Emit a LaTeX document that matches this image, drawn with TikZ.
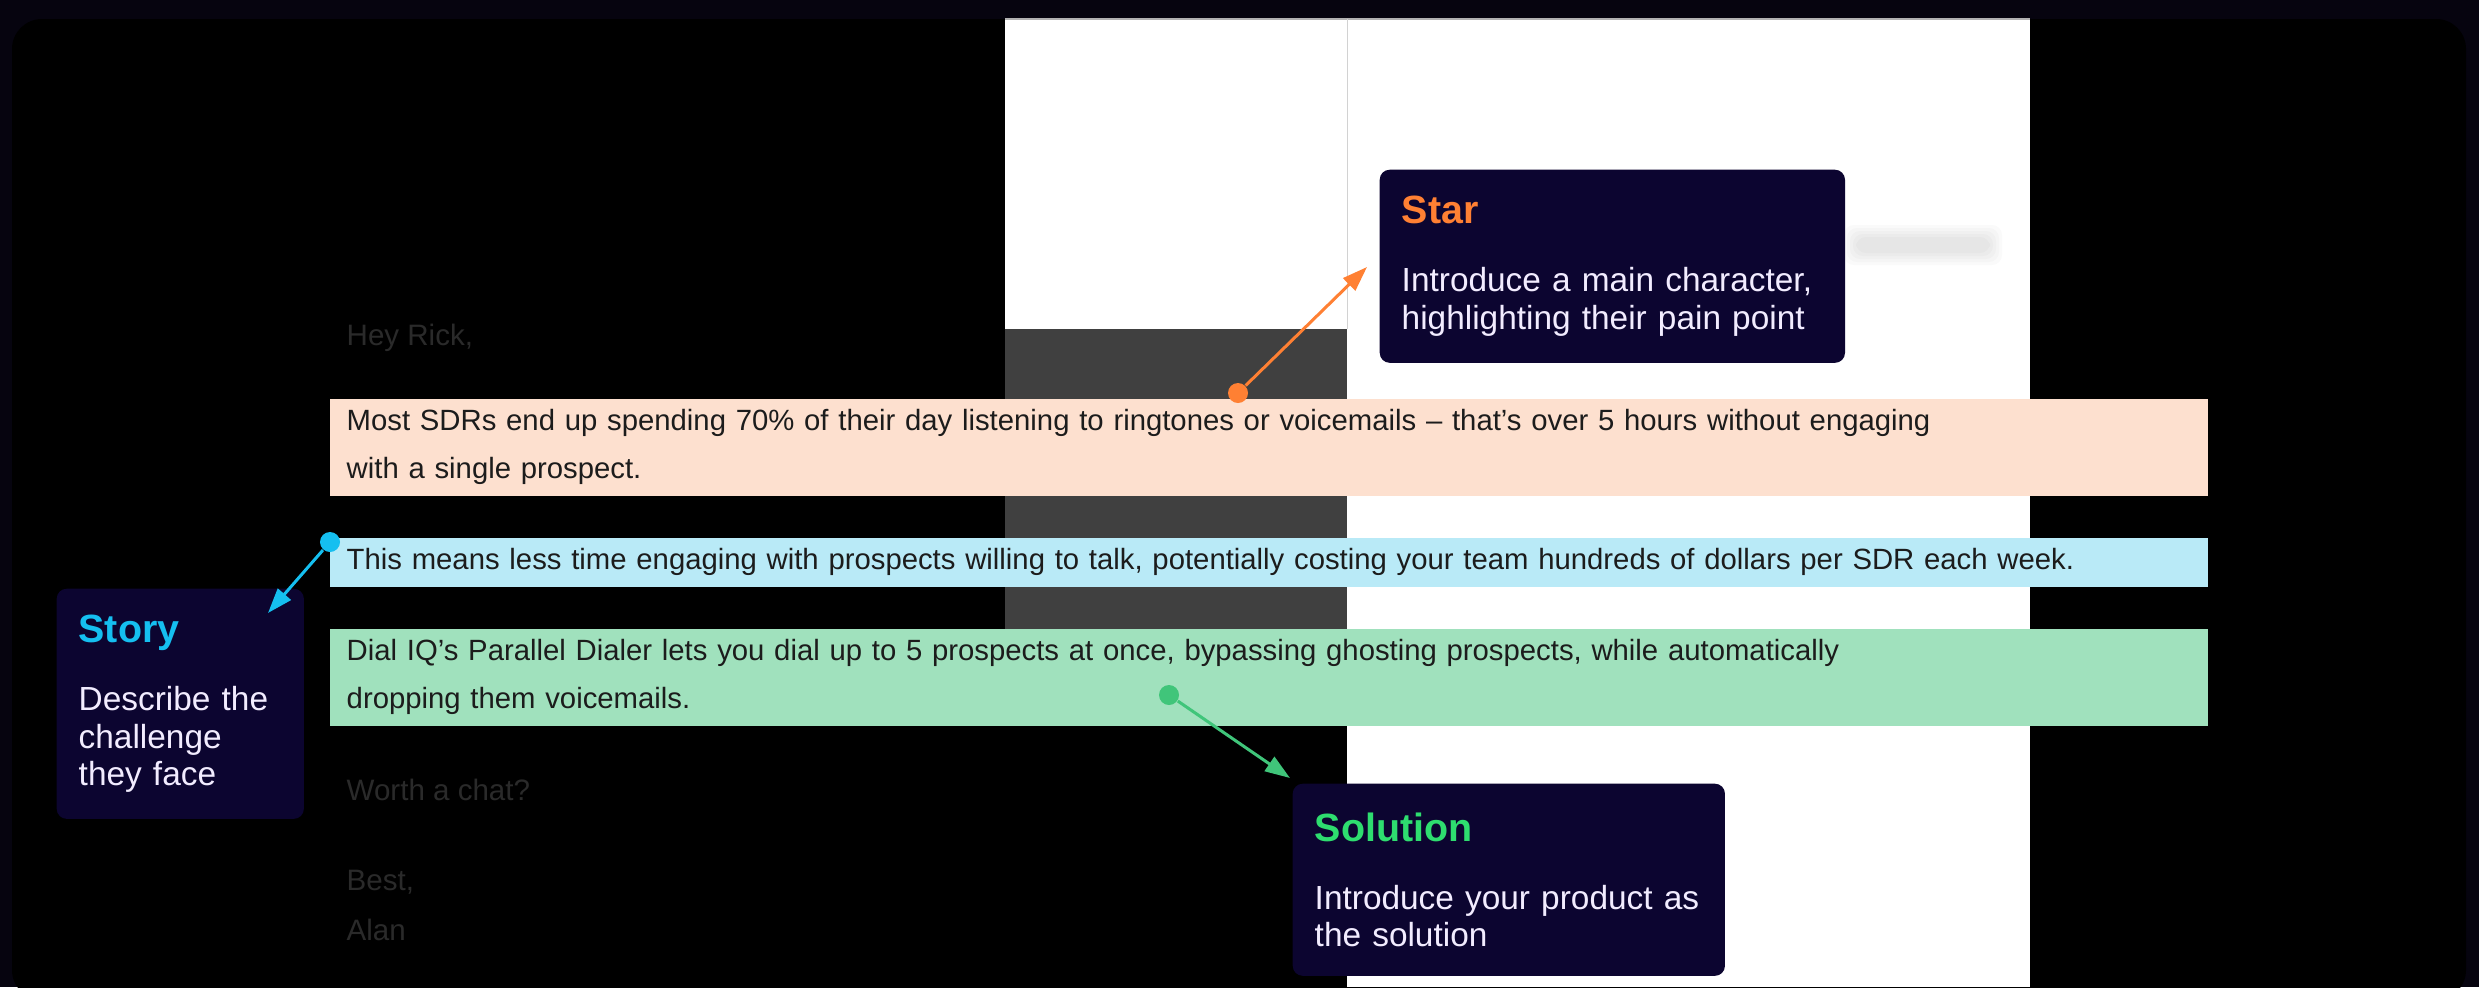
\documentclass[tikz,border=0pt]{standalone}
\usepackage{fontspec}
\setmainfont{Liberation Sans}
\usetikzlibrary{positioning,arrows.meta}

\definecolor{backdrop}{HTML}{06040F}
\definecolor{panel}{HTML}{0C0530}
\definecolor{darkstrip}{HTML}{404040}
\definecolor{peach}{HTML}{FDE0CF}
\definecolor{sky}{HTML}{B9EAF7}
\definecolor{mint}{HTML}{A0E1BD}
\definecolor{starorange}{HTML}{FF8033}
\definecolor{storyblue}{HTML}{15BFF0}
\definecolor{solgreen}{HTML}{2EDD6F}
\definecolor{linkgreen}{HTML}{40C57A}
\definecolor{lavender}{HTML}{F2ECFF}
\definecolor{mailgrey}{HTML}{2A2A2A}
\definecolor{inkgrey}{HTML}{1C1C1C}

\newcommand{\calloutTitle}[2]{{\color{#1}\fontsize{11.2}{13}\selectfont\bfseries #2}\\[8.6pt]}

\tikzset{
  hlbox/.style={anchor=north west,inner xsep=0.17cm,inner ysep=0pt,text width=18.43cm,
    align=left,text=inkgrey,font=\fontsize{8.33}{13.7}\selectfont},
  mailtext/.style={anchor=west,inner sep=0pt,text=mailgrey,font=\fontsize{8.4}{10}\selectfont},
  callout/.style={anchor=north west,fill=panel,rounded corners=0.1cm,inner xsep=0.22cm,
    inner ysep=0pt,align=left,text=lavender,font=\fontsize{9.5}{10.7}\selectfont},
  dot/.style={circle,inner sep=0pt,minimum size=0.2cm},
  link/.style={line width=0.03cm,-{Triangle[length=0.25cm,width=0.17cm]}}
}

\begin{document}
\begin{tikzpicture}[x=0.01cm,y=-0.01cm]
\useasboundingbox (0,0) rectangle (2479,987);
\fill[backdrop] (0,0) rectangle (2479,987);
\fill[black,rounded corners=0.3cm] (12,19) rectangle (2466,1000);

\fill[white] (1005,19) rectangle (1347,329);
\fill[white] (1347,19) rectangle (2030,987);
\draw[gray!60,line width=0.02cm] (1005,19) -- (2030,19);
\fill[darkstrip] (1005,329) rectangle (1347,725);
\draw[gray!35,line width=0.01cm] (1347,19) -- (1347,329);
\foreach \r in {0,3,...,12}
  \fill[gray,opacity=0.04,rounded corners=0.1cm] (1856-\r,237-\r) rectangle (1990+\r,253+\r);

\node[mailtext] (greeting) at (346,338) {Hey Rick,};
\node[mailtext] (ask) at (346,790) {Worth a chat?};
\node[mailtext] (signoff) at (346,882) {Best,};
\node[mailtext] (sender) at (346,930) {Alan};

\node[hlbox,fill=peach,minimum height=0.97cm] (pain) at (329,398)
  {Most SDRs end up spending 70\% of their day listening to ringtones or voicemails – that's over 5 hours without engaging\\with a single prospect.};
\node[hlbox,fill=sky,minimum height=0.49cm] (cost) at (329,537)
  {This means less time engaging with prospects willing to talk, potentially costing your team hundreds of dollars per SDR each week.};
\node[hlbox,fill=mint,minimum height=0.97cm] (dialer) at (329,628)
  {Dial IQ’s Parallel Dialer lets you dial up to 5 prospects at once, bypassing ghosting prospects, while automatically\\dropping them voicemails.};

\node[callout,text width=4.21cm,minimum height=1.93cm] (star) at (1379,169)
  {\calloutTitle{starorange}{Star}Introduce a main character,\\highlighting their pain point};
\node[callout,text width=2.03cm,minimum height=2.30cm] (story) at (56,588)
  {\calloutTitle{storyblue}{Story}Describe the\\challenge\\they face};
\node[callout,text width=3.88cm,minimum height=1.92cm] (solution) at (1292,783)
  {\calloutTitle{solgreen}{Solution}Introduce your product as\\the solution};

\node[dot,fill=starorange] (stardot) at (1238,393) {};
\coordinate (startip) at (1367,267);
\draw[link,starorange] (stardot) -- (startip);

\node[dot,fill=storyblue] (storydot) at (330,542) {};
\coordinate (storytip) at (268,613);
\draw[link,storyblue] (storydot) -- (storytip);

\node[dot,fill=linkgreen] (soldot) at (1169,695) {};
\coordinate (soltip) at (1290,778);
\draw[link,linkgreen] (soldot) -- (soltip);
\end{tikzpicture}
\end{document}
